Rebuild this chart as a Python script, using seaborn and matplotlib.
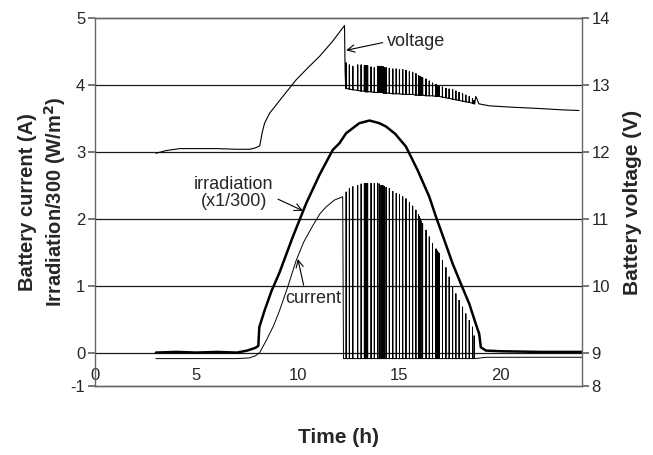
import numpy as np
import seaborn as sns
import matplotlib
matplotlib.use("Agg")
import matplotlib.pyplot as plt

# ---- data ----
# irradiation / 300 (W/m2), left axis
irr_t = [3.0, 4.0, 5.0, 6.0, 7.0, 7.5, 7.9, 8.05, 8.1, 8.36, 8.7, 9.1, 9.75, 10.41, 11.07, 11.72,
         12.05, 12.38, 13.03, 13.53, 14.02, 14.35, 14.8, 15.33, 15.9, 16.48, 16.81, 17.2, 17.63,
         18.05, 18.45, 18.75, 18.94, 19.02, 19.27, 20.0, 22.0, 24.0]
irr_v = [0.0, 0.01, 0.0, 0.01, 0.0, 0.03, 0.07, 0.1, 0.38, 0.63, 0.92, 1.2, 1.73, 2.23, 2.66, 3.03,
         3.13, 3.28, 3.43, 3.47, 3.43, 3.38, 3.27, 3.08, 2.73, 2.33, 2.03, 1.70, 1.33,
         1.02, 0.73, 0.45, 0.28, 0.08, 0.03, 0.02, 0.01, 0.01]

# battery current (A), left axis: smooth part before / after the pulsing period
cur_pre_t = [3.0, 5.0, 7.0, 7.6, 7.9, 8.12, 8.44, 8.8, 9.1, 9.5, 9.92, 10.3, 10.74, 11.1, 11.4,
             11.8, 12.21, 12.25]
cur_pre_v = [-0.09, -0.09, -0.09, -0.08, -0.05, 0.0, 0.18, 0.40, 0.63, 0.98, 1.38, 1.66, 1.90,
             2.08, 2.18, 2.28, 2.33, -0.09]
cur_post_t = [18.72, 19.0, 19.3, 24.0]
cur_post_v = [-0.09, -0.08, -0.07, -0.07]
cur_off = -0.09

# charge-controller pulses
spike_t = [12.38, 12.54, 12.71, 12.95, 13.12, 13.28, 13.33, 13.38, 13.44, 13.61,
           13.77, 13.94, 14.02, 14.10, 14.14, 14.18, 14.22, 14.27, 14.35, 14.51,
           14.68, 14.85, 15.01, 15.17, 15.33, 15.50, 15.66, 15.82, 15.95, 15.99,
           16.03, 16.07, 16.15, 16.32, 16.48, 16.64, 16.81, 16.88, 16.92, 16.97,
           17.13, 17.30, 17.46, 17.63, 17.79, 17.95, 18.12, 18.28, 18.45, 18.61, 18.69]
cur_top = [2.40, 2.45, 2.48, 2.50, 2.52, 2.53, 2.53, 2.53, 2.53, 2.53,
           2.53, 2.53, 2.52, 2.50, 2.50, 2.49, 2.49, 2.48, 2.47, 2.45,
           2.41, 2.38, 2.36, 2.33, 2.30, 2.24, 2.19, 2.13, 2.06, 2.03,
           2.00, 1.97, 1.93, 1.83, 1.73, 1.63, 1.55, 1.52, 1.50, 1.48,
           1.38, 1.27, 1.13, 0.98, 0.88, 0.78, 0.68, 0.58, 0.48, 0.38, 0.25]
volt_top = [13.33, 13.30, 13.28, 13.30, 13.30, 13.29, 13.29, 13.29, 13.29, 13.27,
            13.26, 13.28, 13.28, 13.28, 13.27, 13.27, 13.27, 13.26, 13.26, 13.25,
            13.24, 13.24, 13.23, 13.23, 13.22, 13.20, 13.19, 13.17, 13.14, 13.13,
            13.12, 13.12, 13.11, 13.09, 13.06, 13.03, 13.01, 12.99, 12.99, 12.98,
            12.97, 12.95, 12.94, 12.93, 12.91, 12.89, 12.87, 12.85, 12.83, 12.80, 12.77]
volt_low = [12.95, 12.94, 12.93, 12.92, 12.91, 12.91, 12.90, 12.90, 12.90, 12.90,
            12.89, 12.89, 12.89, 12.89, 12.89, 12.89, 12.88, 12.88, 12.88, 12.88,
            12.87, 12.87, 12.87, 12.86, 12.86, 12.86, 12.86, 12.85, 12.85, 12.85,
            12.85, 12.85, 12.85, 12.84, 12.84, 12.84, 12.83, 12.83, 12.83, 12.83,
            12.82, 12.81, 12.80, 12.79, 12.78, 12.77, 12.76, 12.75, 12.74, 12.73, 12.72]

# battery voltage (V), right axis
volt_pre_t = [3.0, 3.5, 4.18, 5.0, 6.0, 7.0, 7.62, 7.9, 8.12, 8.25, 8.36, 8.61, 9.26, 9.92,
              10.5, 11.07, 11.7, 12.3, 12.33, 12.36]
volt_pre_v = [11.98, 12.02, 12.05, 12.05, 12.05, 12.04, 12.04, 12.06, 12.09, 12.30, 12.43,
              12.58, 12.83, 13.08, 13.26, 13.43, 13.65, 13.89, 13.20, 12.96]
volt_post_t = [18.72, 18.77, 18.85, 18.92, 19.43, 20.5, 21.89, 23.0, 23.86]
volt_post_v = [12.72, 12.83, 12.78, 12.72, 12.69, 12.67, 12.65, 12.63, 12.62]

x_ticks = [0, 5, 10, 15, 20]
left_ticks = [0, 1, 2, 3, 4, 5]
right_ticks = [9, 10, 11, 12, 13, 14]

# build pulse traces
cur_x, cur_y = list(cur_pre_t), list(cur_pre_v)
volt_x, volt_y = list(volt_pre_t), list(volt_pre_v)
for t, ct, vt, vl in zip(spike_t, cur_top, volt_top, volt_low):
    cur_x += [t, t, t]
    cur_y += [cur_off, ct, cur_off]
    volt_x += [t, t, t]
    volt_y += [vl, vt, vl]
cur_x += cur_post_t
cur_y += cur_post_v
volt_x += volt_post_t
volt_y += volt_post_v

# ---- plot ----
sns.set_theme(style="white")
plt.rcParams["font.family"] = ["Liberation Sans", "DejaVu Sans"]

fig, ax = plt.subplots(figsize=(6.53, 4.55), dpi=100)
fig.subplots_adjust(left=0.1455, right=0.891, top=0.960, bottom=0.1516)
ax2 = ax.twinx()

sns.lineplot(x=irr_t, y=irr_v, ax=ax, color="black", lw=1.8, sort=False, estimator=None)
sns.lineplot(x=cur_x, y=cur_y, ax=ax, color="black", lw=0.7, sort=False, estimator=None)
sns.lineplot(x=volt_x, y=volt_y, ax=ax2, color="black", lw=0.8, sort=False, estimator=None)

# the lower part of the axis is shown compressed in the original (-1 / 8 at the bottom)
ax.set_xlim(0, 24)
ax.set_ylim(-0.5, 5)
ax2.set_ylim(8.5, 14)
ax.set_yticks([-0.5] + left_ticks)
ax.set_yticklabels(["-1"] + [str(v) for v in left_ticks])
ax2.set_yticks([8.5] + right_ticks)
ax2.set_yticklabels(["8"] + [str(v) for v in right_ticks])

for v in [0, 1, 2, 3, 4]:
    ax.axhline(v, color="#1a1a1a", lw=0.9, zorder=0)

spine_col = "#666666"
for s in ["left", "right", "top", "bottom"]:
    ax.spines[s].set_color(spine_col)
    ax2.spines[s].set_color(spine_col)
    ax.spines[s].set_linewidth(1.0)
    ax2.spines[s].set_linewidth(1.0)
ax.spines["right"].set_visible(False)
ax2.spines["left"].set_visible(False)

ax.tick_params(axis="y", direction="out", length=5, color=spine_col, labelsize=12, pad=2, left=True)
ax2.tick_params(axis="y", direction="out", length=5, color=spine_col, labelsize=12, pad=2, right=True)
ax.tick_params(axis="x", bottom=False, labelbottom=False)

# x tick labels sit under the zero line
sec = ax.secondary_xaxis(0.5 / 5.5)
sec.set_xticks(x_ticks)
sec.spines["bottom"].set_visible(False)
sec.tick_params(axis="x", length=0, labelsize=12, pad=11)

ax.set_xlabel("Time (h)", fontsize=15, fontweight="bold", labelpad=30)
ax.set_ylabel("Battery current (A)\nIrradiation/300 (W/m$^\\mathbf{2}$)", fontsize=14.5,
              fontweight="bold", labelpad=1.5, linespacing=1.3)
ax2.set_ylabel("Battery voltage (V)", fontsize=15, fontweight="bold", labelpad=9)

arrow = dict(arrowstyle="->", color="black", lw=0.8, shrinkA=1, shrinkB=0)
ax2.annotate("voltage", xy=(12.38, 13.52), xytext=(14.41, 13.65), fontsize=13,
             ha="left", va="center", arrowprops=dict(arrow, relpos=(0, 0.5)))
ax.annotate("irradiation\n(x1/300)", xy=(10.25, 2.12), xytext=(6.84, 2.39), fontsize=13,
            ha="center", va="center", linespacing=1.0,
            arrowprops=dict(arrow, relpos=(0.93, 0.45)))
ax.annotate("current", xy=(10.0, 1.40), xytext=(10.77, 0.81), fontsize=13,
            ha="center", va="center", arrowprops=dict(arrow, relpos=(0.35, 0.9)))

plt.savefig("out.png", dpi=100)
